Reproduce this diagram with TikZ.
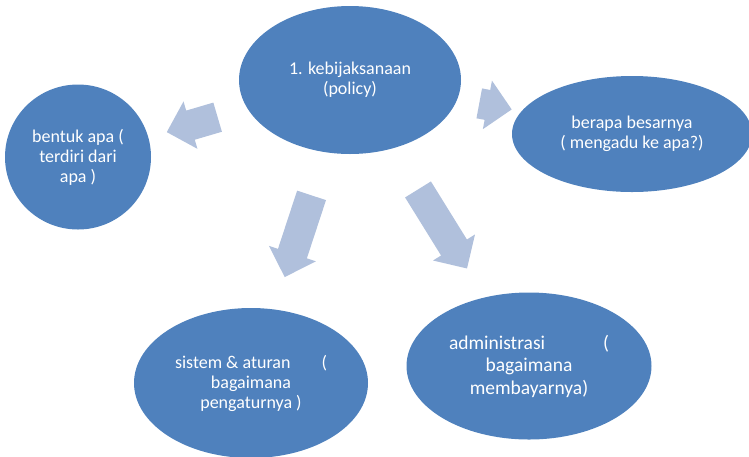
\documentclass[tikz,border=0pt]{standalone}
\usepackage{fontspec}
\setmainfont{Carlito}
\usetikzlibrary{shapes.geometric, shapes.arrows}
\definecolor{bubbleblue}{RGB}{79,129,189}
\definecolor{arrowblue}{RGB}{176,192,220}

\begin{document}
\begin{tikzpicture}[x=1pt, y=-1pt]

                \tikzstyle{bubble} = [ellipse, fill=bubbleblue, text=white, inner sep=0pt, align=center, font=\fontsize{18}{20}\selectfont]
                \tikzstyle{blockarrow} = [single arrow, fill=arrowblue, inner xsep=0pt, inner ysep=15pt, minimum width=49pt, single arrow head extend=9.5pt]
                \useasboundingbox (0, 0) rectangle (749, 456);
                \node [bubble, minimum width=222pt, minimum height=148pt](policy) at (350, 80) {1. kebijaksanaan\\(policy)};
                \node [bubble, minimum width=146pt, minimum height=145pt](bentuk) at (78, 157) {bentuk apa (\\terdiri dari\\apa )};
                \node [bubble, minimum width=240pt, minimum height=116pt](besar) at (632, 134) {berapa besarnya\\( mengadu ke apa?)};
                \node [bubble, minimum width=234pt, minimum height=150pt](sistem) at (251, 383) {\makebox[152pt]{sistem \& aturan\hfill(}\\bagaimana\\pengaturnya )};
                \node [bubble, minimum width=245pt, minimum height=147pt, font=\fontsize{19.5}{22.5}\selectfont](admin) at (529, 366) {\makebox[160pt]{administrasi\hfill(}\\bagaimana\\membayarnya)};
                \node [blockarrow, minimum height=53pt, rotate=196.4](toleft) at (199.5, 122.5) {};
                \node [blockarrow, minimum height=33pt, rotate=-10.6](toright) at (488, 105) {};
                \node [blockarrow, minimum height=86pt, rotate=251.8](todownleft) at (300.5, 229) {};
                \node [blockarrow, minimum height=93pt, rotate=-58.2](todownright) at (438.5, 222.5) {};
\end{tikzpicture}
\end{document}
